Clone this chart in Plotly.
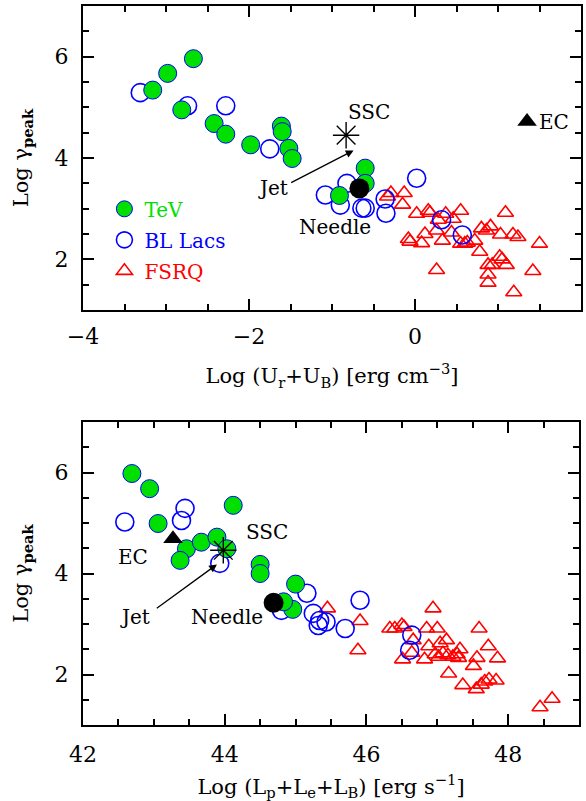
import plotly.graph_objects as go

# ---------------- data: top panel (energy density) ----------------
top_tev_x = [-3.16, -2.98, -2.67, -2.81, -2.42, -2.28, -1.98, -1.61, -1.60, -1.52, -1.48, -0.91, -0.60, -0.60]
top_tev_y = [5.34, 5.67, 5.96, 4.95, 4.68, 4.47, 4.26, 4.63, 4.52, 4.19, 3.99, 3.26, 3.80, 3.50]

top_bll_x = [-3.31, -2.74, -2.28, -1.75, -1.08, -0.82, -0.90, -0.64, -0.60, -0.36, -0.35, 0.02, 0.32, 0.57]
top_bll_y = [5.29, 5.03, 5.03, 4.18, 3.27, 3.50, 3.07, 3.01, 3.01, 3.19, 2.91, 3.60, 2.78, 2.48]

top_fsrq_x = [-0.29, -0.13, -0.33, -0.15, 0.02, 0.16, 0.18, 0.37, 0.55, 1.09, 0.46, 0.28,
              -0.08, -0.06, 0.08, 0.12, 0.26, 0.33, 0.44, 0.55, 0.60, 0.63, 0.72, 0.78,
              0.80, 0.86, 0.91, 1.03, 1.18, 1.24, 1.50, 0.26, 0.88, 0.93, 1.02, 1.05,
              1.10, 0.88, 0.88, 1.42, 1.19]
top_fsrq_y = [3.31, 3.31, 3.24, 3.08, 2.90, 2.96, 2.92, 2.90, 2.96, 2.92, 2.80, 2.78,
              2.40, 2.35, 2.32, 2.50, 2.57, 2.37, 2.53, 2.31, 2.31, 2.33, 2.37, 2.15,
              2.61, 2.57, 2.65, 2.49, 2.49, 2.44, 2.31, 1.79, 1.89, 1.89, 2.05, 2.00,
              1.89, 1.70, 1.54, 1.77, 1.35]

top_ssc = (-0.83, 4.45)
top_needle = (-0.67, 3.40)
top_ec = (1.35, 4.72)
top_jet_tail = (-1.51, 3.50)
top_jet_head = (-0.74, 4.15)

# ---------------- data: bottom panel (jet power) ----------------
bot_tev_x = [42.69, 42.94, 43.06, 44.12, 43.46, 43.37, 43.67, 43.89, 44.03, 44.50, 44.50, 45.00, 44.96, 44.83]
bot_tev_y = [5.98, 5.68, 4.99, 5.35, 4.49, 4.26, 4.62, 4.72, 4.49, 4.18, 4.00, 3.79, 3.29, 3.44]

bot_bll_x = [42.59, 43.44, 43.39, 43.93, 45.16, 45.25, 45.34, 45.32, 45.43, 45.70, 45.91, 46.64, 46.61, 44.80]
bot_bll_y = [5.02, 5.29, 5.05, 4.20, 3.61, 3.21, 3.07, 2.97, 3.04, 2.91, 3.47, 2.78, 2.48, 3.27]

bot_fsrq_x = [45.45, 45.91, 45.88, 46.33, 46.40, 46.50, 46.53, 46.94, 46.85, 47.00, 47.59, 46.66,
              46.51, 46.64, 46.88, 46.82, 47.04, 47.13, 46.97, 47.02, 47.08, 47.15, 47.22, 47.28,
              47.32, 47.30, 47.72, 47.56, 47.85, 47.51, 47.16, 47.36, 47.55, 47.67, 47.73, 47.83,
              47.62, 48.45, 48.62]
bot_fsrq_y = [3.31, 3.06, 2.48, 2.91, 2.91, 2.98, 2.94, 3.31, 2.91, 2.91, 2.91, 2.68,
              2.30, 2.43, 2.56, 2.30, 2.62, 2.68, 2.40, 2.35, 2.42, 2.38, 2.35, 2.40,
              2.50, 2.33, 2.56, 2.33, 2.32, 2.17, 2.02, 1.79, 1.71, 1.86, 1.90, 1.88,
              1.80, 1.35, 1.52]

bot_ssc = (43.98, 4.46)
bot_needle = (44.69, 3.42)
bot_ec = (43.27, 4.69)
bot_jet_tail = (43.02, 3.29)
bot_jet_head = (43.89, 4.18)

# ---------------- style ----------------
FONT = "DejaVu Serif"
GREEN = "#00e000"
BLUE = "#0000ff"
RED = "#ff0000"

fig = go.Figure()


def add_panel(xa, ya, tev_x, tev_y, bll_x, bll_y, fsrq_x, fsrq_y, ssc, needle, ec, legend):
    fig.add_trace(go.Scatter(
        x=fsrq_x, y=fsrq_y, mode="markers", xaxis=xa, yaxis=ya,
        name='<span style="color:%s">FSRQ</span>' % RED, legendrank=3, showlegend=legend,
        legendgroup="fsrq",
        marker=dict(symbol="triangle-up-open", size=14, color=RED, line=dict(width=1.6, color=RED))))
    fig.add_trace(go.Scatter(
        x=bll_x, y=bll_y, mode="markers", xaxis=xa, yaxis=ya,
        name='<span style="color:%s">BL Lacs</span>' % BLUE, legendrank=2, showlegend=legend,
        legendgroup="bll",
        marker=dict(symbol="circle-open", size=18, color=BLUE, line=dict(width=1.6, color=BLUE))))
    fig.add_trace(go.Scatter(
        x=tev_x, y=tev_y, mode="markers", xaxis=xa, yaxis=ya,
        name='<span style="color:%s">TeV</span>' % GREEN, legendrank=1, showlegend=legend,
        legendgroup="tev",
        marker=dict(symbol="circle", size=18, color=GREEN, line=dict(width=1, color=BLUE))))
    fig.add_trace(go.Scatter(
        x=[needle[0]], y=[needle[1]], mode="markers", xaxis=xa, yaxis=ya, showlegend=False,
        marker=dict(symbol="circle", size=20, color="black")))
    fig.add_trace(go.Scatter(
        x=[ec[0]], y=[ec[1]], mode="markers", xaxis=xa, yaxis=ya, showlegend=False,
        marker=dict(symbol="triangle-up", size=17, color="black")))
    fig.add_trace(go.Scatter(
        x=[ssc[0]], y=[ssc[1]], mode="markers", xaxis=xa, yaxis=ya, showlegend=False,
        marker=dict(symbol="asterisk-open", size=22, color="black", line=dict(width=1.4, color="black"))))


add_panel("x", "y", top_tev_x, top_tev_y, top_bll_x, top_bll_y, top_fsrq_x, top_fsrq_y,
          top_ssc, top_needle, top_ec, True)
add_panel("x2", "y2", bot_tev_x, bot_tev_y, bot_bll_x, bot_bll_y, bot_fsrq_x, bot_fsrq_y,
          bot_ssc, bot_needle, bot_ec, False)

lab = dict(family=FONT, size=20, color="black")
ann = [
    # top panel labels
    dict(x=top_ssc[0] + 0.27, y=top_ssc[1] + 0.46, xref="x", yref="y", text="SSC", showarrow=False, font=lab),
    dict(x=top_needle[0] - 0.29, y=top_needle[1] - 0.76, xref="x", yref="y", text="Needle", showarrow=False, font=lab),
    dict(x=top_ec[0] + 0.32, y=top_ec[1], xref="x", yref="y", text="EC", showarrow=False, font=lab),
    dict(x=top_jet_tail[0] - 0.2, y=top_jet_tail[1] - 0.1, xref="x", yref="y", text="Jet", showarrow=False, font=lab),
    dict(x=top_jet_head[0], y=top_jet_head[1], xref="x", yref="y", ax=top_jet_tail[0], ay=top_jet_tail[1],
         axref="x", ayref="y", text="", showarrow=True, arrowhead=2, arrowsize=1.2, arrowwidth=1.3, arrowcolor="black"),
    # bottom panel labels
    dict(x=bot_ssc[0] + 0.61, y=bot_ssc[1] + 0.36, xref="x2", yref="y2", text="SSC", showarrow=False, font=lab),
    dict(x=bot_needle[0] - 0.66, y=bot_needle[1] - 0.28, xref="x2", yref="y2", text="Needle", showarrow=False, font=lab),
    dict(x=bot_ec[0] - 0.57, y=bot_ec[1] - 0.36, xref="x2", yref="y2", text="EC", showarrow=False, font=lab),
    dict(x=bot_jet_tail[0] - 0.29, y=bot_jet_tail[1] - 0.15, xref="x2", yref="y2", text="Jet", showarrow=False, font=lab),
    dict(x=bot_jet_head[0], y=bot_jet_head[1], xref="x2", yref="y2", ax=bot_jet_tail[0], ay=bot_jet_tail[1],
         axref="x2", ayref="y2", text="", showarrow=True, arrowhead=2, arrowsize=1.2, arrowwidth=1.3, arrowcolor="black"),
]

tickfont = dict(family=FONT, size=22, color="black")
titlefont = dict(family=FONT, size=21, color="black")


def axis_common(**kw):
    d = dict(showline=True, linewidth=2, linecolor="black", mirror="allticks",
             ticks="inside", ticklen=11, tickwidth=1.5, tickcolor="black",
             minor=dict(dtick=0.5, ticks="inside", ticklen=6, tickwidth=1.5, tickcolor="black"),
             showgrid=False, zeroline=False, tickfont=tickfont, dtick=2, tick0=0,
             automargin=False)
    d.update(kw)
    return d


ytitle = "Log γ<sub><b>peak</b></sub>"

fig.update_layout(
    width=586, height=801, margin=dict(l=83, r=5, t=6, b=76, autoexpand=False),
    paper_bgcolor="white", plot_bgcolor="white",
    font=dict(family=FONT, color="black"),
    annotations=ann,
    legend=dict(x=0.043, y=0.745, xanchor="left", yanchor="top", bgcolor="rgba(0,0,0,0)",
                font=dict(family=FONT, size=20), itemsizing="trace", itemwidth=30,
                tracegroupgap=2),
    xaxis=axis_common(domain=[0, 1], range=[-4, 2], anchor="y",
                      ticklabelstandoff=6,
                      title=dict(text="Log (U<sub>r</sub>+U<sub>B</sub>) [erg cm<sup>−3</sup>]",
                                 font=titlefont, standoff=20)),
    yaxis=axis_common(domain=[0.5772, 1], range=[1, 7], anchor="x",
                      ticklabelstandoff=8,
                      title=dict(text=ytitle, font=titlefont, standoff=20)),
    xaxis2=axis_common(domain=[0, 0.996], range=[42, 49], anchor="y2",
                       ticklabelstandoff=9,
                       title=dict(text="Log (L<sub>p</sub>+L<sub>e</sub>+L<sub>B</sub>) [erg s<sup>−1</sup>]",
                                  font=titlefont, standoff=26)),
    yaxis2=axis_common(domain=[0, 0.4214], range=[1, 7], anchor="x2",
                       ticklabelstandoff=8,
                       title=dict(text=ytitle, font=titlefont, standoff=20)),
)

fig.write_html("out.html", config={"displayModeBar": False},
               post_script="document.body.style.margin='0';document.body.style.overflow='hidden';")
